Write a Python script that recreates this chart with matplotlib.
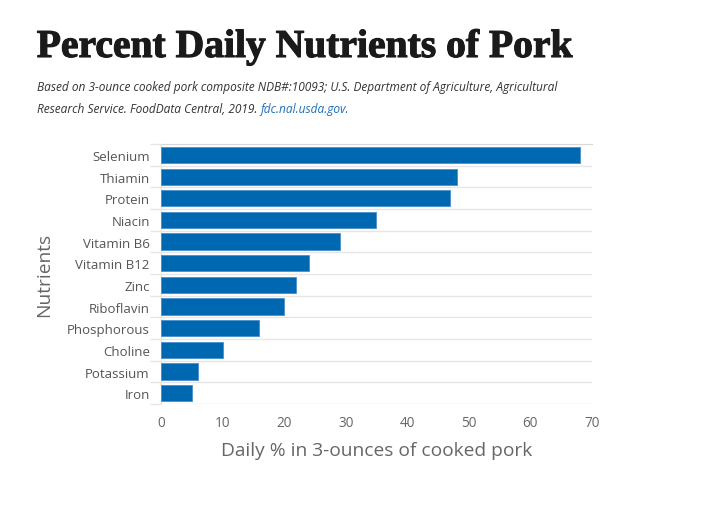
import matplotlib
matplotlib.use("Agg")
import matplotlib.pyplot as plt
import matplotlib.patheffects as pe
import numpy as np

nutrients = ["Selenium", "Thiamin", "Protein", "Niacin", "Vitamin B6", "Vitamin B12",
             "Zinc", "Riboflavin", "Phosphorous", "Choline", "Potassium", "Iron"]
percent_daily = [68, 48, 47, 35, 29, 24, 22, 20, 16, 10, 6, 5]
x_ticks = [0, 10, 20, 30, 40, 50, 60, 70]

title = "Percent Daily Nutrients of Pork"
source_line1 = ("Based on 3-ounce cooked pork composite NDB#:10093; "
                "U.S. Department of Agriculture, Agricultural")
source_line2 = "Research Service. FoodData Central, 2019. "
source_link = "fdc.nal.usda.gov."

bar_color = "#0067b1"
grid_color = "#e6e6e6"
text_gray = "#666666"

plt.rcParams['font.family'] = ['Open Sans', 'DejaVu Sans']

fig = plt.figure(figsize=(7.07, 5.06), dpi=100)
ax = fig.add_axes([0.2277, 0.1996, 0.6096, 0.5138])

y = np.arange(len(nutrients))
ax.barh(y, percent_daily, height=0.74, color=bar_color,
        edgecolor="#4a8fcc", linewidth=0.6, zorder=3)

ax.set_xlim(0, 70)
ax.set_ylim(len(nutrients) - 0.5, -0.5)
ax.set_xticks(x_ticks)
ax.set_yticks(y)
ax.set_yticklabels(nutrients)
ax.set_yticks(np.arange(len(nutrients) + 1) - 0.5, minor=True)

ax.grid(axis="y", which="minor", color=grid_color, linewidth=1, zorder=0)
ax.grid(axis="y", which="major", visible=False)
ax.tick_params(axis="y", which="major", length=0, pad=8, labelsize=9.5, labelcolor="#555555")
ax.tick_params(axis="y", which="minor", length=8, color=grid_color, width=1)
ax.tick_params(axis="x", length=0, pad=8, labelsize=9.8, labelcolor=text_gray)

for side in ["right", "bottom"]:
    ax.spines[side].set_visible(False)
ax.spines["top"].set_color("#d8d8d8")
ax.spines["left"].set_color(grid_color)

ax.set_xlabel("Daily % in 3-ounces of cooked pork", fontsize=13.8, color=text_gray, labelpad=8)
ax.set_ylabel("Nutrients", fontsize=13.8, color=text_gray, labelpad=10)

fig.text(0.052, 1 - 58 / 506, title, fontsize=28.5, fontweight="bold",
         family=["Liberation Serif", "DejaVu Serif"], color="#1a1a1a", va="baseline",
         path_effects=[pe.withStroke(linewidth=0.8, foreground="#1a1a1a")])

sub_kw = dict(fontsize=8.6, style="italic", color="#333333", va="baseline")
fig.text(0.052, 1 - 91 / 506, source_line1, **sub_kw)
t2 = fig.text(0.052, 1 - 113 / 506, source_line2, **sub_kw)
fig.canvas.draw()
bb = t2.get_window_extent(renderer=fig.canvas.get_renderer())
fig.text(bb.x1 / fig.bbox.width, 1 - 113 / 506, source_link,
         fontsize=8.6, style="italic", color="#1f6fb8", va="baseline")

fig.savefig("out.png", dpi=100)
